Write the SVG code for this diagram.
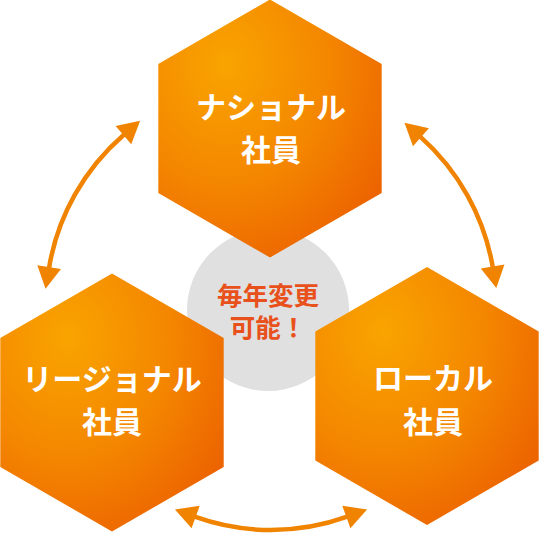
<svg xmlns="http://www.w3.org/2000/svg" width="540" height="534" viewBox="0 0 540 534">
  <defs>
    <radialGradient id="hexGrad" cx="0.3" cy="0.25" r="0.85" fx="0.3" fy="0.25">
      <stop offset="0" stop-color="#f9a400"/>
      <stop offset="0.55" stop-color="#f48600"/>
      <stop offset="1" stop-color="#ec6300"/>
    </radialGradient>
    <polygon id="hex" points="0,-129 111.7,-64.5 111.7,64.5 0,129 -111.7,64.5 -111.7,-64.5"/>
    <marker id="head" markerUnits="userSpaceOnUse" markerWidth="24" markerHeight="24" refX="1" refY="12" orient="auto-start-reverse" overflow="visible">
      <path d="M0,0 L22,12 L0,24 Z" fill="#f08300"/>
    </marker>
    <style>
      .hex { fill: url(#hexGrad); }
      .label { font-family: "Noto Sans CJK JP", "Noto Sans", sans-serif; font-weight: bold; font-size: 30px; fill: #ffffff; text-anchor: middle; }
      .center { font-family: "Noto Sans CJK JP", "Noto Sans", sans-serif; font-weight: bold; font-size: 25.5px; fill: #e8501c; text-anchor: middle; }
      .conn { fill: none; stroke: #f08300; stroke-width: 4.5; marker-start: url(#head); marker-end: url(#head); }
    </style>
  </defs>

  <g id="center">
    <circle cx="268" cy="310" r="81" fill="#e0e0e0"/>
    <text class="center" x="268" y="305">毎年変更</text>
    <text class="center" x="268" y="337">可能！</text>
  </g>

  <g id="connectors">
    <path class="conn" d="M124.2,134.5 A225,225 0 0 0 49,268.1"/>
    <path class="conn" d="M420.2,136.6 A225,225 0 0 1 492.8,267.4"/>
    <path class="conn" d="M194.7,516.7 A225,225 0 0 0 347.3,516.7"/>
  </g>

  <g id="national">
    <use href="#hex" class="hex" transform="translate(270,128.5)"/>
    <text class="label" x="271" y="118">ナショナル</text>
    <text class="label" x="271" y="161">社員</text>
  </g>

  <g id="regional">
    <use href="#hex" class="hex" transform="translate(112,402.5)"/>
    <text class="label" x="112" y="390">リージョナル</text>
    <text class="label" x="112" y="433">社員</text>
  </g>

  <g id="local">
    <use href="#hex" class="hex" transform="translate(427,396)"/>
    <text class="label" x="433" y="389">ローカル</text>
    <text class="label" x="433" y="433">社員</text>
  </g>
</svg>
